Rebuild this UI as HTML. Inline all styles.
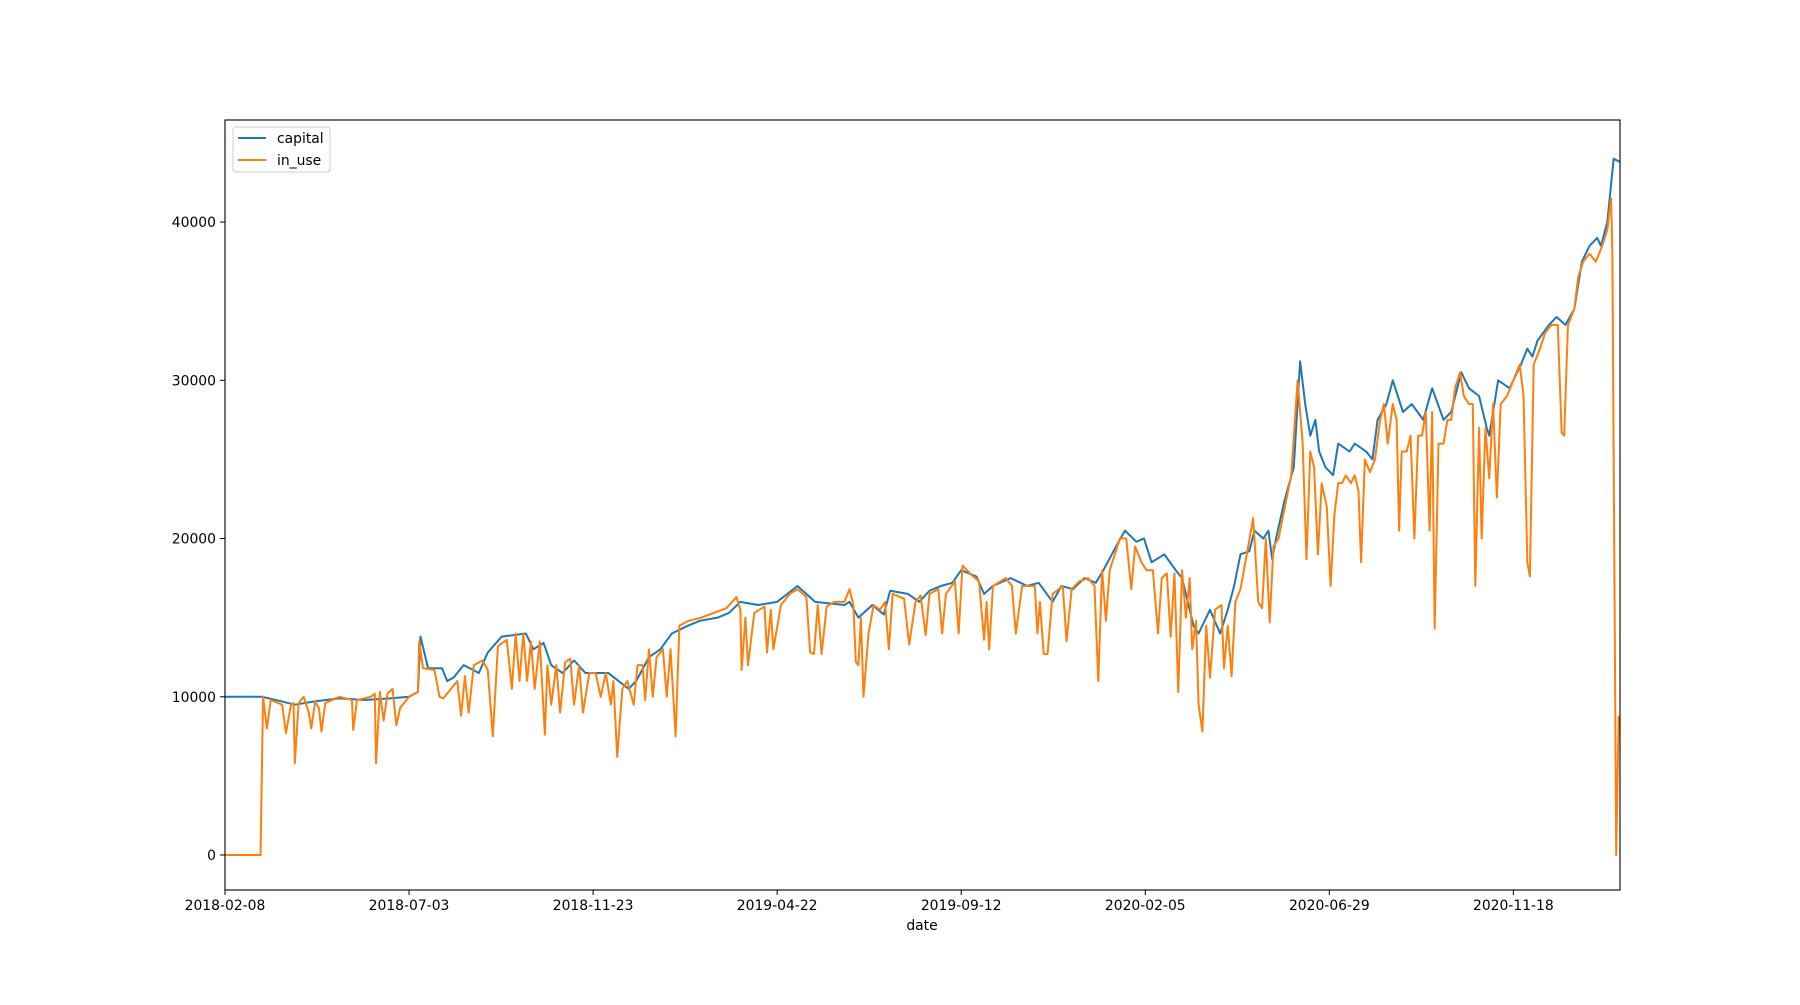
<!DOCTYPE html>
<html><head><meta charset="utf-8"><style>
html,body{margin:0;padding:0;background:#fff;}
svg text{font-family:"DejaVu Sans","Liberation Sans",sans-serif;font-size:13.9px;fill:#000;}
</style></head><body>
<svg id="chart" width="1800" height="1000" xmlns="http://www.w3.org/2000/svg">
<rect width="1800" height="1000" fill="#fff"/>
<g id="plot"></g>
<g id="axes"></g>
<text x="922" y="930" text-anchor="middle">date</text>
<g>
<rect x="233" y="127" width="97" height="45" rx="3" fill="#fff" fill-opacity="0.8" stroke="#ccc"/>
<line x1="238" y1="138" x2="266" y2="138" stroke="#1f77b4" stroke-width="2"/>
<text x="277" y="143">capital</text>
<line x1="238" y1="160" x2="266" y2="160" stroke="#ff7f0e" stroke-width="2"/>
<text x="277" y="165">in_use</text>
</g>
</svg>
<script>
const xTickLabels=["2018-02-08","2018-07-03","2018-11-23","2019-04-22","2019-09-12","2020-02-05","2020-06-29","2020-11-18"];
const xTickIdx=[0,145,290,435,580,725,870,1015];
const yTicks=[0,10000,20000,30000,40000];
const capDays=[0,29,40,55,70,90,110,130,145,152,154,160,171,175,180,188,200,207,218,237,243,251,257,266,275,284,302,318,324,334,343,352,365,374,388,397,406,420,435,451,465,488,492,499,510,519,524,538,547,555,564,573,580,592,598,605,619,632,641,652,659,668,677,686,692,702,709,718,724,730,740,749,754,763,767,776,784,790,795,800,807,811,818,822,825,828,835,842,847,851,855,859,862,867,873,877,886,890,899,904,908,915,920,928,935,944,951,960,966,974,980,988,994,996,1003,1012,1021,1026,1030,1034,1043,1049,1056,1063,1069,1075,1081,1084,1089,1094,1099];
const capVals=[10000,10000,9800,9500,9700,9900,9800,9900,10000,10300,13800,11800,11800,11000,11200,12000,11500,12800,13800,14000,13000,13400,12000,11500,12300,11500,11500,10500,11000,12500,13000,14000,14500,14800,15000,15300,16000,15800,16000,17000,16000,15800,16000,15000,15800,15200,16700,16500,16000,16700,17000,17200,18000,17600,16500,17000,17500,17000,17200,16000,17000,16800,17500,17200,18000,19500,20500,19800,20000,18500,19000,18000,17500,14500,14000,15500,14000,15500,17000,19000,19200,20500,20000,20500,18700,20000,22500,24500,31200,28500,26500,27500,25500,24500,24000,26000,25500,26000,25500,25000,27500,28500,30000,28000,28500,27500,29500,27500,28000,30500,29500,29000,27000,26500,30000,29500,31000,32000,31500,32500,33500,34000,33500,34500,37500,38500,39000,38500,40000,44000,43800];
const useDays=[0,28,30,33,36,45,48,52,54,55,58,62,66,68,71,74,76,79,90,100,101,104,115,118,119,122,125,128,132,135,138,145,152,153,156,165,169,172,178,183,186,189,192,196,203,207,211,215,222,226,229,232,235,238,241,244,248,252,254,257,261,264,268,272,275,279,282,287,292,296,300,304,306,309,313,317,322,325,329,331,334,337,340,345,348,351,355,358,365,375,385,395,403,406,407,410,412,417,425,427,430,432,438,445,451,458,461,464,467,470,474,480,488,492,495,497,499,501,503,507,511,516,520,523,526,535,539,544,548,552,555,562,565,568,575,578,581,588,594,598,600,602,605,615,620,623,628,638,640,642,645,648,652,660,663,667,673,680,685,688,691,694,697,705,710,714,717,722,726,731,735,738,742,745,748,751,754,757,760,762,765,767,770,773,776,780,785,787,790,793,796,800,805,810,814,817,820,823,826,830,835,840,845,849,852,855,858,861,864,868,871,874,877,880,883,887,890,893,895,898,902,906,910,913,916,920,923,925,927,931,934,937,940,943,946,949,951,953,956,960,963,966,969,973,976,980,983,985,988,990,993,996,999,1002,1005,1010,1015,1020,1023,1026,1028,1031,1036,1040,1045,1050,1053,1055,1058,1063,1066,1070,1075,1080,1085,1089,1092,1093,1096,1098];
const useVals=[0,0,10000,8000,9800,9500,7700,9500,9600,5800,9600,10000,9000,8000,9700,9300,7800,9600,10000,9800,7900,9800,10000,10200,5800,10300,8500,10200,10500,8200,9300,10000,10300,13500,11800,11700,10000,9900,10500,11000,8800,11300,9000,12000,12300,11700,7500,13200,13600,10500,14000,11000,14000,11000,13500,10500,13500,7600,12000,9500,12000,9000,12200,12400,9500,12000,9000,11500,11500,10000,11500,9500,11000,6200,10500,11000,9500,12000,12000,9800,13000,10000,12500,13000,10000,13000,7500,14500,14800,15000,15300,15600,16300,15500,11700,15000,12000,15300,15700,12800,15500,13000,15800,16500,16800,16300,12800,12700,15800,12700,15700,16000,16000,16800,15800,12200,12000,15000,10000,14000,15800,15500,16000,13000,16500,16200,13300,16000,16400,13900,16500,16800,14000,16500,17300,14000,18300,17700,17300,13600,16000,13000,17000,17500,17000,14000,17000,17000,14000,16000,12700,12700,16500,17000,13500,16800,17300,17500,17000,11000,18000,14800,18000,20000,20000,16800,19500,18500,18000,18000,14000,17500,17800,13800,17800,10300,18000,15000,17500,13000,14800,9500,7800,14500,11200,15500,15800,11800,14500,11300,16000,16800,19000,21300,16000,15600,20000,14700,19500,20000,22000,24000,30000,26000,18700,25500,24500,19000,23500,22000,17000,21500,23500,23500,24000,23500,24000,23000,18500,25000,24200,25000,27500,28500,26000,28500,27500,20500,25500,25500,26500,20000,26500,26500,28000,20500,28000,14300,26000,26000,27500,27500,29500,30500,29000,28500,28500,17000,27000,20000,27000,23800,28500,22600,28500,29000,30000,31000,29000,18500,17600,31000,32000,33000,33500,33500,26700,26500,33500,34500,36500,37500,38000,37500,38500,39500,41500,38000,0,8800];

const L=225,R=1620,T=120,B=890;
const xMin=0,xMax=1099,yMin=-2211,yMax=46450;
const xs=d=>L+(d-xMin)/(xMax-xMin)*(R-L);
const ys=v=>B-(v-yMin)/(yMax-yMin)*(B-T);
const NS="http://www.w3.org/2000/svg";
const plot=document.getElementById('plot'),axes=document.getElementById('axes');
function mk(tag,attrs,parent){const e=document.createElementNS(NS,tag);for(const k in attrs)e.setAttribute(k,attrs[k]);parent.appendChild(e);return e;}
function line(days,vals,color){
  let d='';
  for(let i=0;i<days.length;i++)d+=(i?'L':'M')+xs(days[i]).toFixed(2)+','+ys(vals[i]).toFixed(2);
  return mk('path',{d:d,fill:'none',stroke:color,'stroke-width':2,'stroke-linejoin':'round'},plot);
}
const p1=line(capDays,capVals,'#1f77b4');


const p2=line(useDays,useVals,'#ff7f0e');


const fr=mk('rect',{x:L,y:T,width:R-L,height:B-T,fill:'none',stroke:'#000','stroke-width':1.1},axes);


xTickIdx.forEach((d,i)=>{
  const x=xs(d);
  mk('line',{x1:x,y1:B,x2:x,y2:B+5,stroke:'#000'},axes);
  const t=mk('text',{x:x,y:B+20,'text-anchor':'middle'},axes);
  t.textContent=xTickLabels[i];
  
  
});
yTicks.forEach(v=>{
  const y=ys(v);
  mk('line',{x1:L-5,y1:y,x2:L,y2:y,stroke:'#000'},axes);
  const t=mk('text',{x:L-9,y:y+5,'text-anchor':'end'},axes);
  t.textContent=String(v);
  
  
});
</script>
</body></html>
